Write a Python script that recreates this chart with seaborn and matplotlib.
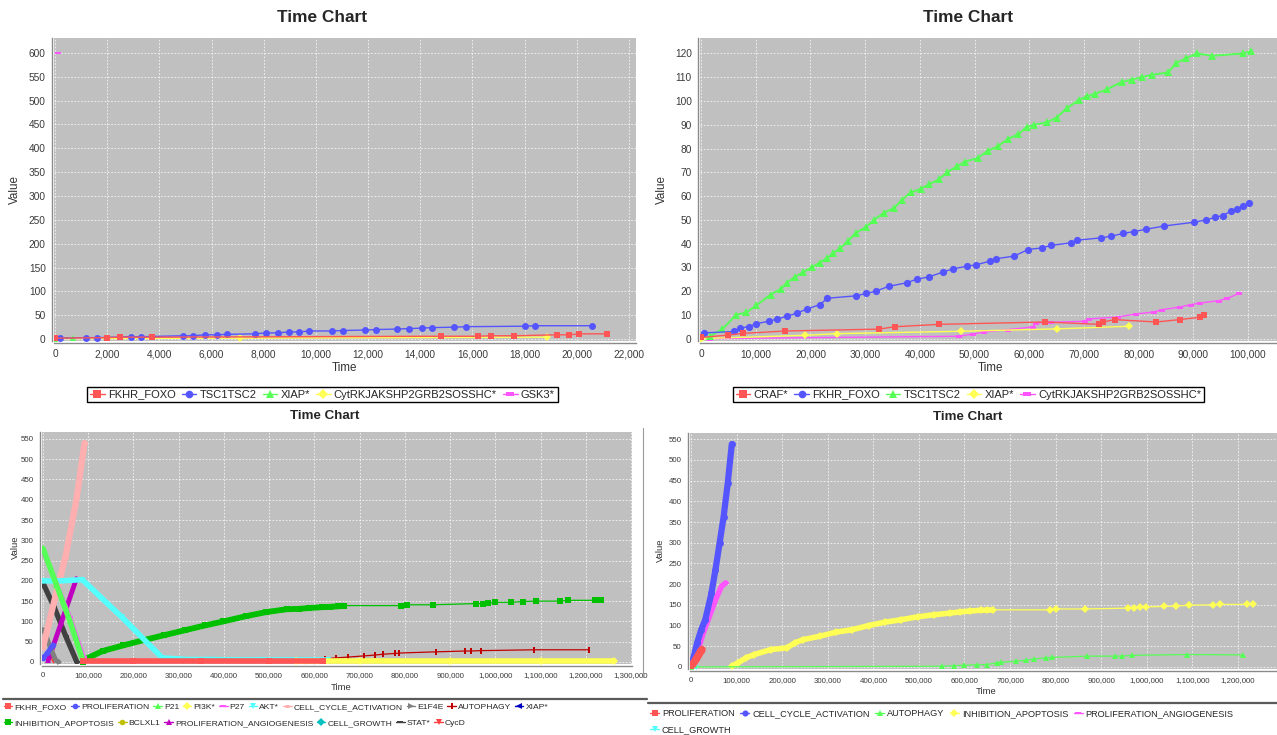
import numpy as np
import pandas as pd
import matplotlib
matplotlib.use("Agg")
import matplotlib.pyplot as plt
from matplotlib.lines import Line2D
from matplotlib.ticker import FuncFormatter
import seaborn as sns

sns.set_theme(style="white")
REG = ["Liberation Sans", "DejaVu Sans"]
plt.rcParams["font.family"] = REG

# ---------------------------------------------------------------- run A
a_fkhr_t = [0, 2000, 2500, 3700, 14800, 16200, 16700, 17600, 19250, 19700, 20100, 21150]
a_fkhr_v = [2, 3, 4, 4, 6, 6, 7, 7, 9, 9, 11, 11]
a_tsc_t = [200, 1200, 1600, 2900, 3300, 4900, 5300, 5750, 6200, 6600, 7650, 8100, 8550,
           8950, 9350, 9750, 10600, 11050, 11900, 12300, 13100, 13550, 14050, 14450,
           15300, 15750, 18000, 18400, 20600]
a_tsc_v = [2, 3, 3, 5, 5, 7, 7, 9, 9, 10, 11, 13, 13, 15, 15, 17, 17, 18, 19, 20, 21, 22,
           23, 24, 25, 26, 27, 28, 28]
a_xiap_t = [0, 700]
a_xiap_v = [1, 3]
a_cyt_t = [0, 7100, 18850]
a_cyt_v = [1, 2, 4]
a_gsk_t = [100]
a_gsk_v = [600]

# ---------------------------------------------------------------- run B
b_craf_t = [0, 5000, 7600, 15400, 32500, 35400, 43500, 62800, 72800, 73500, 75600, 83200,
            87500, 91200, 91900]
b_craf_v = [0.5, 1.5, 2.2, 3.2, 4, 5, 6, 7, 6, 7, 8, 7, 8, 9, 10]
b_foxo_t = [500, 6100, 7200, 8700, 10100, 12400, 13900, 15700, 17600, 19400, 21700, 23100,
            28300, 30200, 32000, 34300, 37600, 39400, 41700, 44200, 46100, 48700, 50200,
            52800, 53900, 57200, 59800, 62400, 63900, 67600, 68700, 73100, 75000, 77200,
            79100, 81300, 84700, 90200, 92400, 93900, 95400, 96900, 98000, 99100, 100200]
b_foxo_v = [2.4, 3, 4.5, 5, 6.3, 7.3, 8.3, 9.4, 10.8, 12.5, 14.3, 17, 18, 19, 20, 22, 23.5,
            25, 26, 28, 29.4, 30.5, 31, 32.6, 33.6, 34.7, 37.5, 38.2, 39.2, 40.3, 41.4, 42.4,
            43.1, 44.3, 45, 46, 47.4, 49, 50, 51, 51.8, 53.7, 54.7, 55.8, 57]
b_tsc_t = [1600, 3900, 6400, 8300, 10100, 12700, 14600, 15700, 17200, 18700, 20200, 21700,
           23100, 24200, 25400, 26800, 28300, 30200, 31600, 33500, 35300, 36800, 38300,
           40200, 41700, 43500, 45000, 46800, 48300, 50600, 52400, 54300, 56100, 58000,
           59500, 60900, 63200, 65000, 66900, 69100, 70600, 72000, 74300, 76900, 78700,
           80600, 82400, 85400, 86900, 88700, 90600, 93500, 99100, 100600]
b_tsc_v = [1, 4, 10, 11, 14, 18.5, 21, 23.5, 26, 28, 30, 32, 34, 36, 38, 41, 44.5, 47, 50,
           53, 55, 58.5, 61.5, 63, 65, 67, 70, 72.5, 74.5, 76, 79, 81, 84, 86, 89, 90, 91,
           93, 97, 100.5, 102, 103, 105, 108, 109, 110, 111, 112, 116, 118, 120, 119, 120, 121]
b_xiap_t = [0, 19000, 24800, 47600, 65000, 78200]
b_xiap_v = [0, 1.4, 2.1, 3.1, 4.1, 5.2]
b_cyt_t = [1600, 47200, 49800, 51700, 56100, 60600, 61300, 63900, 70200, 71000, 76200,
           79600, 82800, 84300, 87600, 89500, 91300, 94700, 96200, 98400]
b_cyt_v = [0, 1, 2, 2.8, 3.8, 4.9, 6.6, 6.9, 7.3, 8.3, 9.1, 10.4, 11.2, 12.2, 13.3, 14.3,
           15, 16, 17, 19]

# ---------------------------------------------------------------- run C
c_fkhr_t = [88000, 200000, 350000, 500000, 620000]
c_fkhr_v = [3, 3, 3, 3, 3]
c_prolif_t = [0, 10000, 22000]
c_prolif_v = [10, 22, 42]
c_p21_t = [0, 30000, 60000, 88000]
c_p21_v = [280, 190, 100, 5]
c_pi3k_t = [560000, 700000, 900000, 1100000, 1262000]
c_pi3k_v = [3, 3, 3, 3, 3]
c_p27_t = [0, 30000, 60000, 90000, 94000]
c_p27_v = [272, 195, 110, 12, 3]
c_akt_t = [0, 40000, 87000, 175000, 264000, 320000, 370000, 430000, 485000, 557000, 630000]
c_akt_v = [200, 200, 203, 110, 10, 6, 6, 5, 5, 5, 5]
c_cca_t = [0, 25000, 50000, 74000, 92000]
c_cca_v = [35, 150, 260, 400, 540]
c_e1f4e_t = [0, 5000, 15000, 28000, 35000]
c_e1f4e_v = [80, 70, 40, 5, 0]
c_auto_t = [560000, 624000, 647000, 674000, 710000, 733000, 751000, 778000, 787000, 869000,
            932000, 946000, 968000, 1085000, 1207000]
c_auto_v = [2, 8, 10, 12, 15, 17, 19, 21, 22, 25, 27, 27, 28, 30, 30]
c_xiap_t = [195000, 200000]
c_xiap_v = [3, 3]
c_inhib_t = [88000, 92000, 132000, 178000, 223000, 268000, 313000, 358000, 399000, 449000,
             494000, 539000, 566000, 589000, 616000, 634000, 652000, 666000, 792000, 804000,
             862000, 958000, 972000, 983000, 999000, 1035000, 1060000, 1089000, 1143000,
             1160000, 1220000, 1234000]
c_inhib_v = [0, 6, 27, 41, 54, 66, 78, 90, 100, 113, 123, 130, 131, 133, 135, 136, 137, 139,
             139, 141, 141, 144, 144, 145, 147, 147, 149, 150, 150, 152, 152, 153]
c_bclxl1_t = [575000, 590000]
c_bclxl1_v = [3, 3]
c_pang_t = [12000, 40000, 74000]
c_pang_v = [5, 95, 205]
c_growth_t = [580000, 600000]
c_growth_v = [2, 2]
c_stat_t = [0, 25000, 50000, 75000]
c_stat_v = [195, 135, 65, 0]
c_cycd_t = [20000, 23000]
c_cycd_v = [12, 2]

# ---------------------------------------------------------------- run D
d_prolif_t = [0, 5000, 13000, 20000, 24000]
d_prolif_v = [3, 8, 22, 35, 42]
d_cca_t = [0, 4500, 13400, 22400, 31300, 44800, 53700, 62700, 71600, 80600, 89500]
d_cca_v = [10, 18, 58, 90, 114, 178, 235, 299, 363, 444, 538]
d_auto_t = [0, 551000, 578000, 600000, 627000, 649000, 671000, 680000, 712000, 734000,
            752000, 779000, 792000, 869000, 931000, 945000, 967000, 1088000, 1211000]
d_auto_v = [0, 1.6, 3, 4, 5.6, 5.6, 10, 11, 14, 16, 19, 22, 23, 26, 26, 26, 28, 30, 29]
d_inhib_t = [89500, 103000, 121000, 139000, 175000, 210000, 228000, 246000, 282000, 318000,
             354000, 390000, 425000, 461000, 497000, 533000, 568000, 591000, 613000, 636000,
             649000, 662000, 788000, 801000, 864000, 958000, 971000, 985000, 998000,
             1038000, 1063000, 1092000, 1146000, 1160000, 1220000, 1234000]
d_inhib_v = [1.6, 10, 22, 30, 42, 46, 58, 66, 74, 84, 90, 100, 108, 114, 121, 126, 130, 133,
             135, 137, 137, 138, 138, 140, 140, 142, 143, 144, 145, 146, 147, 149, 150, 151,
             151, 153]
d_pang_t = [13400, 26900, 40300, 53700, 67100, 76100]
d_pang_v = [34, 82, 122, 162, 195, 203]
d_growth_t = [0, 10000]
d_growth_v = [0, 0]

# ---------------------------------------------------------------- palette / shapes
RED, BLUE, GREEN, YELLOW = "#FF5555", "#5555FF", "#55FF55", "#FFFF55"
MAGENTA, CYAN, PINK, GRAY = "#FF55FF", "#55FFFF", "#FFAFAF", "#808080"
DRED, DBLUE, DGREEN, DYELLOW = "#C00000", "#0000C0", "#00C000", "#C0C000"
DMAGENTA, DCYAN, DGRAY, LRED = "#C000C0", "#00C0C0", "#404040", "#FF4040"

HRECT = [(-1, -0.45), (1, -0.45), (1, 0.45), (-1, 0.45), (-1, -0.45)]
VRECT = [(-0.45, -1), (0.45, -1), (0.45, 1), (-0.45, 1), (-0.45, -1)]
_th = np.linspace(0, 2 * np.pi, 25)
ELLIPSE = np.column_stack([np.cos(_th), 0.55 * np.sin(_th)])

W, H = 1277, 735
fig = plt.figure(figsize=(W / 100, H / 100), dpi=100)
fig.patch.set_facecolor("white")


def add_ax(left, top, right, bottom):
    return fig.add_axes([left / W, 1 - bottom / H, (right - left) / W, (bottom - top) / H])


def ptext(x, y, s, **kw):
    kw.setdefault("ha", "center")
    kw.setdefault("va", "center")
    fig.text(x / W, 1 - y / H, s, **kw)


def series(ax, t, v, color, marker, ms, lw, z):
    df = pd.DataFrame({"Time": t, "Value": v})
    sns.lineplot(data=df, x="Time", y="Value", ax=ax, color=color, marker=marker,
                 markersize=ms, linewidth=lw, markeredgewidth=0, markeredgecolor=color,
                 markerfacecolor=color, estimator=None, sort=False, legend=False,
                 zorder=z)


def style_axes(ax, xlim, ylim, xticks, yticks, fs):
    ax.set_facecolor("#C0C0C0")
    ax.set_xlim(*xlim)
    ax.set_ylim(*ylim)
    ax.set_xticks(xticks)
    ax.set_yticks(yticks)
    ax.xaxis.set_major_formatter(FuncFormatter(lambda val, pos: f"{int(round(val)):,}"))
    ax.grid(True, color="white", linestyle=(0, (2, 2)), linewidth=0.6, alpha=0.85)
    ax.set_axisbelow(True)
    for s in ("top", "right"):
        ax.spines[s].set_visible(False)
    for s in ("left", "bottom"):
        ax.spines[s].set_color("#8A8A8A")
        ax.spines[s].set_linewidth(1.0)
        ax.spines[s].set_position(("outward", 1.5))
    ax.tick_params(axis="both", length=2.5, width=0.6, color="#8A8A8A", pad=2,
                   labelsize=fs, labelcolor="#3A3A3A")
    ax.set_xlabel("")
    ax.set_ylabel("")


def handles(specs, ms):
    return [Line2D([0], [0], color=c, marker=m, markersize=ms, markeredgewidth=0, linewidth=1.0)
            for c, m in specs]


# ================================================================ panel A
axA = add_ax(54, 38, 636, 341)
specA = [("FKHR_FOXO", a_fkhr_t, a_fkhr_v, RED, "s", 4.2),
         ("TSC1TSC2", a_tsc_t, a_tsc_v, BLUE, "o", 5.0),
         ("XIAP*", a_xiap_t, a_xiap_v, GREEN, "^", 4.2),
         ("CytRKJAKSHP2GRB2SOSSHC*", a_cyt_t, a_cyt_v, YELLOW, "D", 3.8),
         ("GSK3*", a_gsk_t, a_gsk_v, MAGENTA, HRECT, 4.4)]
for i, (name, t, v, c, m, ms) in enumerate(specA):
    series(axA, t, v, c, m, ms, 1.0, 10 - i)
style_axes(axA, (-40, 22270), (-4, 631), np.arange(0, 22001, 2000), np.arange(0, 601, 50), 7.3)
ptext(322, 18, "Time Chart", fontsize=12.4, fontweight="bold")
ptext(15, 190, "Value", rotation=90, fontsize=8.4, color="#333333")
ptext(345, 368, "Time", fontsize=8.4, color="#333333")
legA = fig.legend(handles([(s[3], s[4]) for s in specA], 5.5), [s[0] for s in specA],
                  loc="center", bbox_to_anchor=(322.5 / W, 1 - 394.5 / H), ncol=5,
                  frameon=True, fancybox=False, edgecolor="black", framealpha=1,
                  prop={"size": 8}, handlelength=1.3, handletextpad=0.3,
                  columnspacing=0.55, borderpad=0.25, borderaxespad=0)
legA.get_frame().set_linewidth(1.0)

# ================================================================ panel B
axB = add_ax(700, 38, 1277, 341)
specB = [("CRAF*", b_craf_t, b_craf_v, RED, "s", 4.6),
         ("FKHR_FOXO", b_foxo_t, b_foxo_v, BLUE, "o", 5.2),
         ("TSC1TSC2", b_tsc_t, b_tsc_v, GREEN, "^", 5.6),
         ("XIAP*", b_xiap_t, b_xiap_v, YELLOW, "D", 4.2),
         ("CytRKJAKSHP2GRB2SOSSHC*", b_cyt_t, b_cyt_v, MAGENTA, HRECT, 4.8)]
for i, (name, t, v, c, m, ms) in enumerate(specB):
    series(axB, t, v, c, m, ms, 1.4 if i == 2 else 1.0, 10 - i)
style_axes(axB, (-200, 105300), (-1, 126.5), np.arange(0, 100001, 10000),
           np.arange(0, 121, 10), 7.3)
ptext(968, 18, "Time Chart", fontsize=12.4, fontweight="bold")
ptext(662, 190, "Value", rotation=90, fontsize=8.4, color="#333333")
ptext(991, 368, "Time", fontsize=8.4, color="#333333")
legB = fig.legend(handles([(s[3], s[4]) for s in specB], 5.5), [s[0] for s in specB],
                  loc="center", bbox_to_anchor=(968.5 / W, 1 - 394.5 / H), ncol=5,
                  frameon=True, fancybox=False, edgecolor="black", framealpha=1,
                  prop={"size": 8}, handlelength=1.3, handletextpad=0.3,
                  columnspacing=0.55, borderpad=0.25, borderaxespad=0)
legB.get_frame().set_linewidth(1.0)

# ================================================================ panel C
axC = add_ax(42, 432, 632, 664)
specC = [("FKHR_FOXO", c_fkhr_t, c_fkhr_v, RED, "s", 4.0, 4.0),
         ("PROLIFERATION", c_prolif_t, c_prolif_v, BLUE, "o", 4.0, 3.5),
         ("P21", c_p21_t, c_p21_v, GREEN, "^", 4.0, 4.0),
         ("PI3K*", c_pi3k_t, c_pi3k_v, YELLOW, "D", 3.6, 4.0),
         ("P27", c_p27_t, c_p27_v, MAGENTA, HRECT, 4.0, 3.0),
         ("AKT*", c_akt_t, c_akt_v, CYAN, "v", 4.0, 4.0),
         ("CELL_CYCLE_ACTIVATION", c_cca_t, c_cca_v, PINK, ELLIPSE, 4.0, 4.5),
         ("E1F4E", c_e1f4e_t, c_e1f4e_v, GRAY, ">", 3.5, 3.5),
         ("AUTOPHAGY", c_auto_t, c_auto_v, DRED, VRECT, 4.6, 0.9),
         ("XIAP*", c_xiap_t, c_xiap_v, DBLUE, "<", 3.5, 1.0),
         ("INHIBITION_APOPTOSIS", c_inhib_t, c_inhib_v, DGREEN, "s", 4.2, 0.9),
         ("BCLXL1", c_bclxl1_t, c_bclxl1_v, DYELLOW, "o", 3.0, 1.0),
         ("PROLIFERATION_ANGIOGENESIS", c_pang_t, c_pang_v, DMAGENTA, "^", 4.0, 3.5),
         ("CELL_GROWTH", c_growth_t, c_growth_v, DCYAN, "D", 3.0, 1.0),
         ("STAT*", c_stat_t, c_stat_v, DGRAY, HRECT, 4.0, 3.8),
         ("CycD", c_cycd_t, c_cycd_v, LRED, "v", 3.5, 2.0)]
for i, (name, t, v, c, m, ms, lw) in enumerate(specC):
    series(axC, t, v, c, m, ms, lw, 30 - i)
# dense stretch of the apoptosis curve drawn as a solid band
inh_t = np.array(c_inhib_t)
dense = inh_t <= 670000
axC.plot(inh_t[dense], np.array(c_inhib_v)[dense], color=DGREEN, lw=4.2,
         solid_capstyle="butt", zorder=20)
style_axes(axC, (-2000, 1302000), (-5, 567), np.arange(0, 1300001, 100000),
           np.arange(0, 551, 50), 5.7)
ptext(325, 416, "Time Chart", fontsize=9.6, fontweight="bold")
ptext(15, 547, "Value", rotation=90, fontsize=6.8, color="#333333")
ptext(341, 687, "Time", fontsize=6.8, color="#333333")
hC = handles([(s[3], s[4]) for s in specC], 4.0)
nC = [s[0] for s in specC]
for lo, hi, yy in [(0, 10, 707), (10, 16, 723)]:
    fig.legend(hC[lo:hi], nC[lo:hi], loc="center left", bbox_to_anchor=(4 / W, 1 - yy / H),
               ncol=hi - lo, frameon=False, prop={"size": 6.1},
               handlelength=1.0, handletextpad=0.25, columnspacing=0.45, borderpad=0,
               borderaxespad=0)
fig.add_artist(Line2D([3 / W, 647 / W], [1 - 698.5 / H] * 2, color="#5A5A5A", lw=1.6))
fig.add_artist(Line2D([642.5 / W] * 2, [1 - 428 / H, 1 - 677 / H], color="#9A9A9A", lw=0.8))

# ================================================================ panel D
axD = add_ax(690, 433, 1277, 669)
specD = [("PROLIFERATION", d_prolif_t, d_prolif_v, RED, "s", 5.0, 5.5),
         ("CELL_CYCLE_ACTIVATION", d_cca_t, d_cca_v, BLUE, "o", 5.0, 4.5),
         ("AUTOPHAGY", d_auto_t, d_auto_v, GREEN, "^", 4.2, 0.9),
         ("INHIBITION_APOPTOSIS", d_inhib_t, d_inhib_v, YELLOW, "D", 4.0, 0.9),
         ("PROLIFERATION_ANGIOGENESIS", d_pang_t, d_pang_v, MAGENTA, HRECT, 4.5, 4.0),
         ("CELL_GROWTH", d_growth_t, d_growth_v, CYAN, "v", 3.5, 1.0)]
for i, (name, t, v, c, m, ms, lw) in enumerate(specD):
    series(axD, t, v, c, m, ms, lw, 30 - i)
dinh_t = np.array(d_inhib_t)
ddense = dinh_t <= 670000
axD.plot(dinh_t[ddense], np.array(d_inhib_v)[ddense], color=YELLOW, lw=4.0,
         solid_capstyle="butt", zorder=20)
style_axes(axD, (-2200, 1285600), (-5, 565), np.arange(0, 1200001, 100000),
           np.arange(0, 551, 50), 5.7)
ptext(968, 417, "Time Chart", fontsize=9.6, fontweight="bold")
ptext(660, 550, "Value", rotation=90, fontsize=6.8, color="#333333")
ptext(986, 692, "Time", fontsize=6.8, color="#333333")
hD = handles([(s[3], s[4]) for s in specD], 4.4)
nD = [s[0] for s in specD]
for lo, hi, yy in [(0, 5, 713.5), (5, 6, 729.5)]:
    fig.legend(hD[lo:hi], nD[lo:hi], loc="center left", bbox_to_anchor=(650 / W, 1 - yy / H),
               ncol=hi - lo, frameon=False, prop={"size": 6.6},
               handlelength=1.0, handletextpad=0.3, columnspacing=0.6, borderpad=0,
               borderaxespad=0)
fig.add_artist(Line2D([648 / W, 1277 / W], [1 - 703 / H] * 2, color="#5A5A5A", lw=1.6))

fig.savefig("out.png", dpi=100, facecolor="white")
